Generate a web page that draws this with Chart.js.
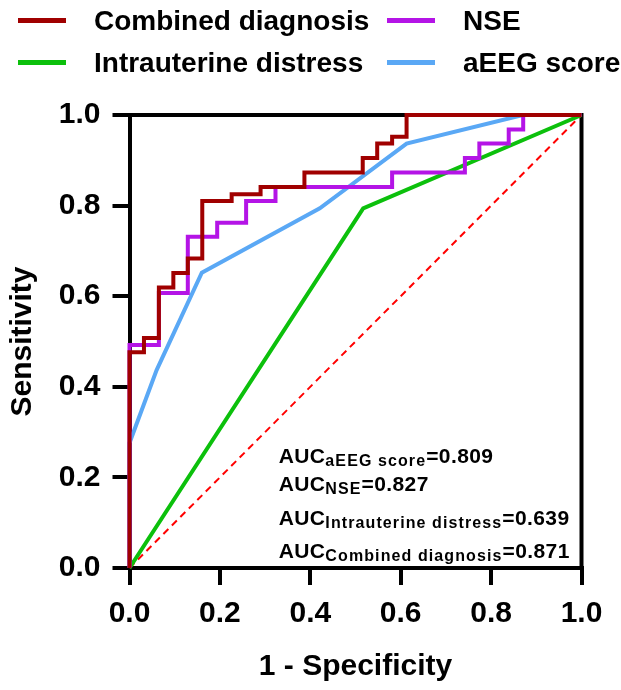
<!DOCTYPE html>
<html>
<head>
<meta charset="utf-8">
<script src="https://cdn.jsdelivr.net/npm/chart.js@4"></script>
<style>
  body { margin: 0; background: #fff; }
  #wrap { position: relative; width: 621px; height: 690px; font-family: "Liberation Sans", Arial, sans-serif; font-weight: bold; color: #000; }
  #roc { position: absolute; left: 0; top: 0; }
  .leg-line { position: absolute; width: 48px; height: 5px; }
  .leg-text { position: absolute; font-size: 28px; line-height: 28px; white-space: nowrap; }
  .auc { position: absolute; font-size: 21px; line-height: 21px; white-space: nowrap; letter-spacing: 0.4px; }
  .auc sub { font-size: 16px; line-height: 0; vertical-align: -3px; letter-spacing: 1.1px; }
</style>
</head>
<body>
<div id="wrap">
  <canvas id="roc" width="621" height="690"></canvas>
  <div id="legend"></div>
  <div id="aucs"></div>
</div>
<script>
// Données (1 - spécificité, sensibilité)
const combinedFpr = [0, 0, 0.032, 0.065, 0.097, 0.129, 0.161, 0.226, 0.290, 0.387, 0.516, 0.548, 0.581, 0.613, 1];
const combinedTpr = [0, 0.476, 0.508, 0.619, 0.651, 0.683, 0.810, 0.825, 0.841, 0.873, 0.905, 0.937, 0.952, 1, 1];

const nseFpr = [0, 0, 0.065, 0.129, 0.194, 0.258, 0.323, 0.581, 0.742, 0.774, 0.839, 0.871, 1];
const nseTpr = [0, 0.492, 0.607, 0.731, 0.762, 0.810, 0.841, 0.873, 0.905, 0.937, 0.968, 1, 1];

const aeegFpr = [0, 0, 0.06, 0.16, 0.421, 0.613, 0.87, 1];
const aeegTpr = [0, 0.276, 0.437, 0.652, 0.794, 0.937, 1, 1];

const distressFpr = [0, 0.517, 1];
const distressTpr = [0, 0.794, 1];

const refFpr = [0, 1];
const refTpr = [0, 1];

const tickValues = [0, 0.2, 0.4, 0.6, 0.8, 1.0];

const seriesNames = ['Combined diagnosis', 'NSE', 'Intrauterine distress', 'aEEG score'];
const seriesColors = ['#A00000', '#B414E6', '#0CC00C', '#5AA8F5'];
const aucValues = ['0.809', '0.827', '0.639', '0.871'];
const aucLabels = ['aEEG score', 'NSE', 'Intrauterine distress', 'Combined diagnosis'];

const FONT = '"Liberation Sans", Arial, sans-serif';

function toPoints(xs, ys) {
  return xs.map((x, i) => ({ x: x, y: ys[i] }));
}

// Cadre haut et droit autour de la zone du graphique
const framePlugin = {
  id: 'frame',
  beforeDatasetsDraw(chart) {
    const { ctx, chartArea: a } = chart;
    ctx.save();
    ctx.strokeStyle = '#000';
    ctx.lineWidth = 4;
    ctx.beginPath();
    ctx.moveTo(a.left - 2, a.top);
    ctx.lineTo(a.right, a.top);
    ctx.lineTo(a.right, a.bottom + 2);
    ctx.stroke();
    ctx.restore();
  }
};

function axisOptions(title, isX) {
  return {
    type: 'linear',
    min: 0,
    max: 1,
    afterBuildTicks: scale => { scale.ticks = tickValues.map(v => ({ value: v })); },
    afterFit: scale => {
      if (isX) scale.height = 122; else scale.width = 129.5;
    },
    border: { display: true, color: '#000', width: 4 },
    grid: {
      drawOnChartArea: false,
      drawTicks: true,
      tickLength: 17,
      tickWidth: 4,
      tickColor: '#000',
      color: '#000',
      lineWidth: 4
    },
    ticks: {
      color: '#000',
      padding: isX ? 11 : 12,
      font: { family: FONT, size: 30, weight: 'bold' },
      callback: v => Number(v).toFixed(1)
    },
    title: {
      display: true,
      text: title,
      color: '#000',
      font: { family: FONT, size: 30, weight: 'bold' },
      padding: { top: 5, bottom: 5 }
    }
  };
}

const lineStyle = (label, color, xs, ys, stepped) => ({
  label: label,
  data: toPoints(xs, ys),
  borderColor: color,
  backgroundColor: color,
  borderWidth: 4,
  pointRadius: 0,
  tension: 0,
  stepped: stepped,
  fill: false,
  clip: false
});

const chart = new Chart(document.getElementById('roc').getContext('2d'), {
  type: 'line',
  data: {
    datasets: [
      lineStyle(seriesNames[0], seriesColors[0], combinedFpr, combinedTpr, true),
      lineStyle(seriesNames[1], seriesColors[1], nseFpr, nseTpr, true),
      lineStyle(seriesNames[3], seriesColors[3], aeegFpr, aeegTpr, false),
      lineStyle(seriesNames[2], seriesColors[2], distressFpr, distressTpr, false),
      {
        label: 'Reference',
        data: toPoints(refFpr, refTpr),
        borderColor: '#FF0000',
        borderWidth: 2,
        borderDash: [7, 5],
        pointRadius: 0,
        fill: false,
        clip: false
      }
    ]
  },
  options: {
    responsive: false,
    animation: false,
    layout: { padding: { top: 115, right: 39.5, left: 0, bottom: 0 } },
    plugins: {
      legend: { display: false },
      tooltip: { enabled: false }
    },
    scales: {
      x: axisOptions('1 - Specificity', true),
      y: axisOptions('Sensitivity', false)
    }
  },
  plugins: [framePlugin]
});

// Légende en 2 colonnes au-dessus du graphique
const legend = document.getElementById('legend');
const legendCols = [18, 387];
const legendRows = [20, 62];
seriesNames.forEach((name, i) => {
  const col = i % 2;
  const row = Math.floor(i / 2);
  const line = document.createElement('div');
  line.className = 'leg-line';
  line.style.left = legendCols[col] + 'px';
  line.style.top = (legendRows[row] - 2.5) + 'px';
  line.style.background = seriesColors[i];
  legend.appendChild(line);
  const txt = document.createElement('div');
  txt.className = 'leg-text';
  txt.style.left = (legendCols[col] + 76) + 'px';
  txt.style.top = (legendRows[row] - 13) + 'px';
  txt.textContent = name;
  legend.appendChild(txt);
});

// Valeurs d'AUC dans le coin bas droit
const aucBox = document.getElementById('aucs');
const aucLeft = chart.scales.x.getPixelForValue(0.33);
const aucRows = [0.25, 0.187, 0.113, 0.04];
aucLabels.forEach((lab, i) => {
  const d = document.createElement('div');
  d.className = 'auc';
  d.style.left = aucLeft + 'px';
  d.style.top = (chart.scales.y.getPixelForValue(aucRows[i]) - 10) + 'px';
  d.innerHTML = 'AUC<sub>' + lab + '</sub>=' + aucValues[i];
  aucBox.appendChild(d);
});
</script>
</body>
</html>
